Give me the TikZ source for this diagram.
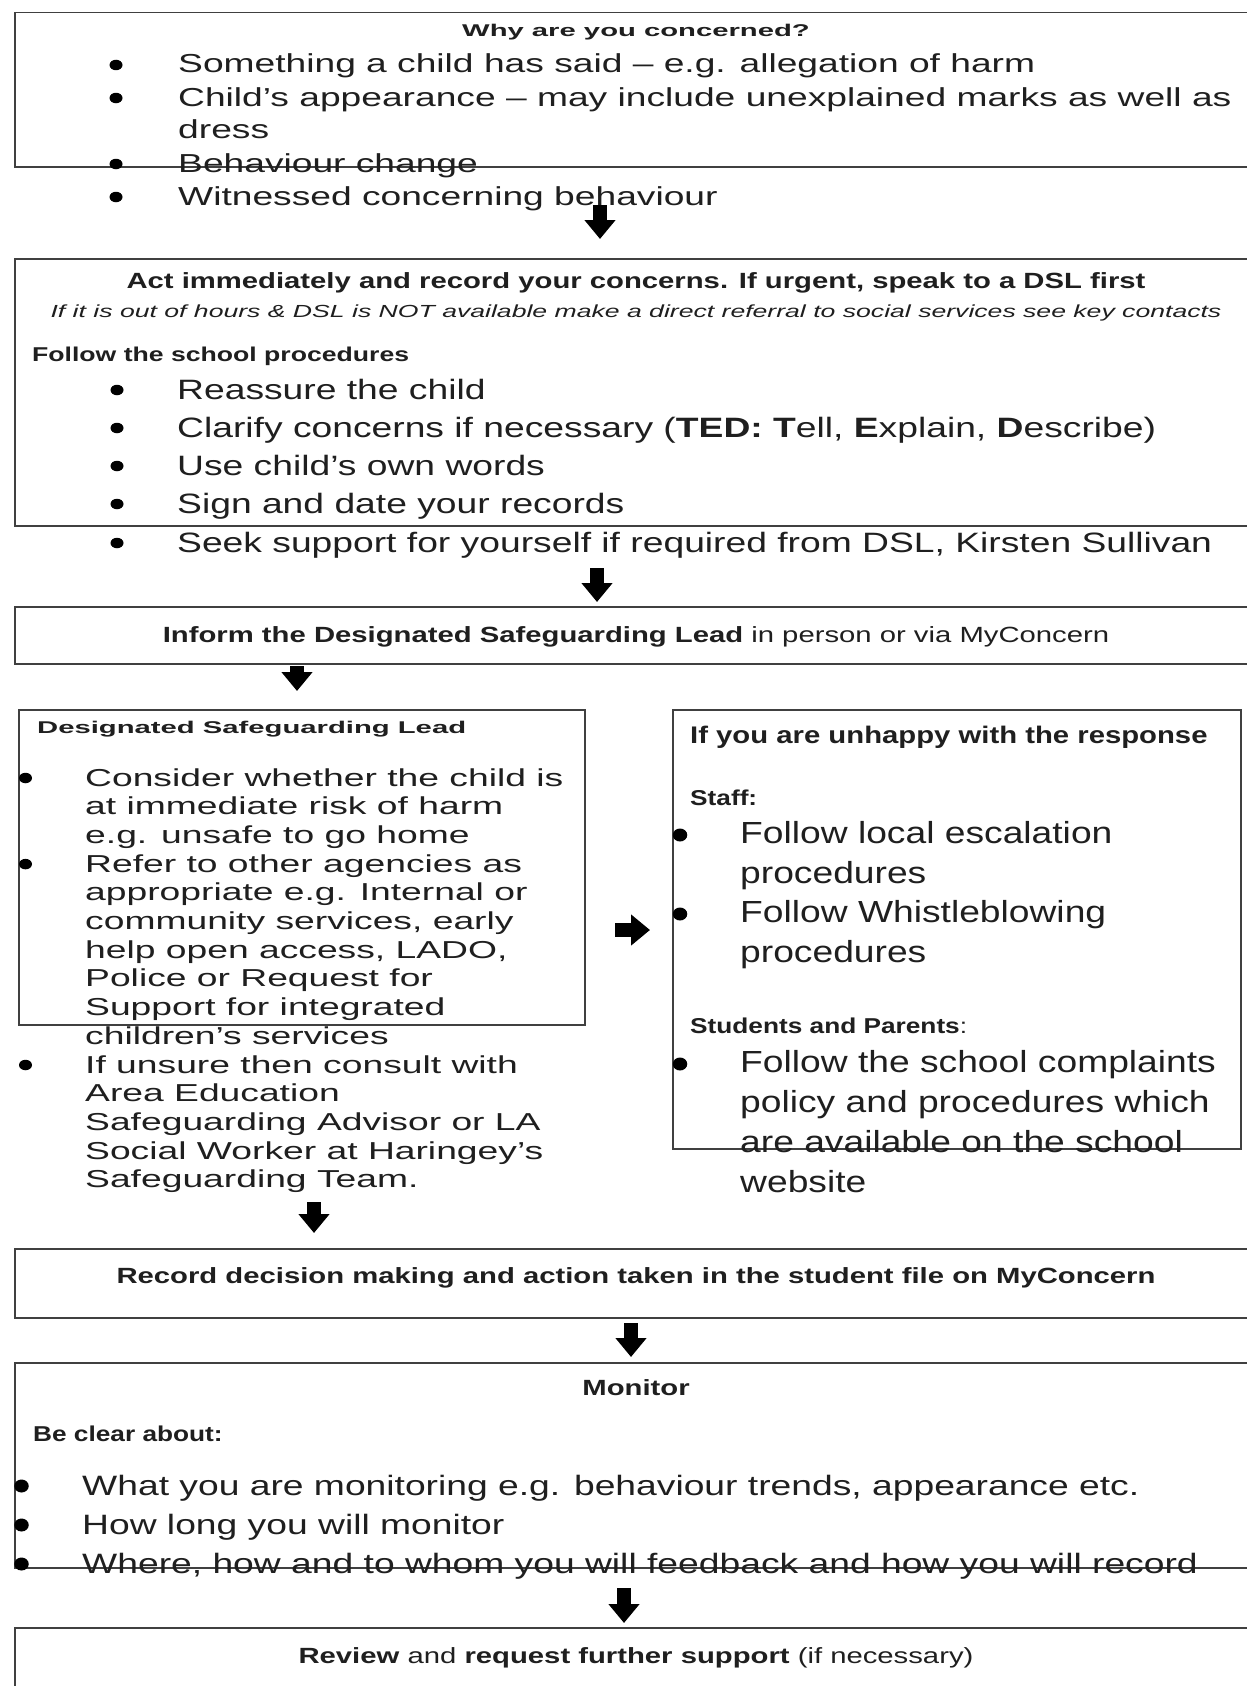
\documentclass[tikz,border=0pt]{standalone}
\usepackage{fontspec}
\setmainfont{Liberation Sans}
\newfontfamily\wideA{Liberation Sans}[FakeStretch=1.22]
\newfontfamily\wideB{Liberation Sans}[FakeStretch=1.33]
\newfontfamily\wideC{Liberation Sans}[FakeStretch=1.43]
\newfontfamily\wideD{Liberation Sans}[FakeStretch=1.52]
\newfontfamily\wideE{Liberation Sans}[FakeStretch=1.72]
\newcommand{\fsz}[1]{\fontsize{#1}{#1}\selectfont}
\usetikzlibrary{arrows.meta, shapes.geometric}

\begin{document}
\begin{tikzpicture}[
        x=1pt, y=-1pt,
        box/.style={draw=black!75, line width=1.5pt, inner sep=0pt, anchor=north west},
        lft/.style={inner sep=0pt, anchor=base west, text=black!88},
        mid/.style={inner sep=0pt, anchor=base, text=black!88},
        title/.style={mid, font=\wideB\bfseries\fsz{22}},
        small/.style={lft, font=\wideE\bfseries\fsz{17}},
        itemA/.style={lft, font=\wideC\fsz{26}},
        itemB/.style={lft, font=\wideB\fsz{28}},
        itemC/.style={lft, font=\wideD\fsz{24.5}},
        itemD/.style={lft, font=\wideA\fsz{30.5}},
        dot/.style={ellipse, fill=black, inner sep=0pt, minimum width=13pt, minimum height=10.5pt},
        bigdot/.style={dot, minimum width=14.5pt, minimum height=13pt},
        blockarrow/.style={draw=black, line width=14pt, -{Triangle[width=30pt, length=19pt]}}
    ]

    % page
    \useasboundingbox (0,0) rectangle (1247,1686);
    \fill[white] (0,0) rectangle (1247,1686);

    % ================= Why are you concerned =================
    \node[box, minimum width=1244pt, minimum height=154pt] (why) at (14,12) {};
    \node[small, anchor=base] (whyhead) at (636,37) {Why are you concerned?};
    \foreach \y/\lbl [count=\i] in {73/{Something a child has said – e.g. allegation of harm}, 106/{Child’s appearance – may include unexplained marks as well as}, 172/{Behaviour change}, 205/{Witnessed concerning behaviour}} {
        \node[dot] (whyb\i) at (116,\y-8) {};
        \node[itemA] (whyt\i) at (178,\y) {\lbl};
    }
    \node[itemA] (whydress) at (178,138) {dress};

    % ================= Act immediately =================
    \node[box, minimum width=1244pt, minimum height=267pt] (act) at (14,258) {};
    \node[title] (acthead) at (636,288) {Act immediately and record your concerns. If urgent, speak to a DSL first};
    \node[mid, font=\wideD\itshape\fsz{17.5}] (actnote) at (636,317) {If it is out of hours \& DSL is NOT available make a direct referral to social services see key contacts};
    \node[lft, font=\wideB\bfseries\fsz{20}] (actsub) at (32,361) {Follow the school procedures};
    \foreach \y/\lbl [count=\i] in {399/{Reassure the child}, 437/{Clarify concerns if necessary (\textbf{TED: T}ell, \textbf{E}xplain, \textbf{D}escribe)}, 475/{Use child’s own words}, 513/{Sign and date your records}, 552/{Seek support for yourself if required from DSL, Kirsten Sullivan}} {
        \node[dot] (actb\i) at (117,\y-9) {};
        \node[itemB] (actt\i) at (177,\y) {\lbl};
    }

    % ================= Inform the DSL =================
    \node[box, minimum width=1244pt, minimum height=57pt] (inform) at (14,606) {};
    \node[mid, font=\wideB\fsz{22}] (informtxt) at (636,642) {\textbf{Inform the Designated Safeguarding Lead} in person or via MyConcern};

    % ================= Designated Safeguarding Lead =================
    \node[box, minimum width=566pt, minimum height=315pt] (dsl) at (18,709) {};
    \node[small] (dslhead) at (37,733) {Designated Safeguarding Lead};
    \foreach \lbl [count=\i] in {Consider whether the child is, at immediate risk of harm, e.g. unsafe to go home, Refer to other agencies as, appropriate e.g. Internal or, {community services, early}, {help open access, LADO,}, Police or Request for, Support for integrated, children’s services, If unsure then consult with, Area Education, Safeguarding Advisor or LA, Social Worker at Haringey’s, Safeguarding Team.} {
        \node[itemC] (dslt\i) at (85,{757.3+28.7*\i}) {\lbl};
    }
    \foreach \i in {1,4,11} {
        \node[dot] (dslb\i) at (25.5,{749.3+28.7*\i}) {};
    }

    % ================= If you are unhappy =================
    \node[box, minimum width=568pt, minimum height=439pt] (unhappy) at (672,709) {};
    \node[lft, font=\wideA\bfseries\fsz{24}] (unhappyhead) at (690,743) {If you are unhappy with the response};
    \node[lft, font=\wideA\bfseries\fsz{21.5}] (staff) at (690,805) {Staff:};
    \node[lft, font=\wideA\fsz{21.5}] (students) at (690,1033) {\textbf{Students and Parents}:};
    \foreach \y/\lbl [count=\i] in {843/Follow local escalation, 883/procedures, 922/Follow Whistleblowing, 962/procedures, 1072/Follow the school complaints, 1112/policy and procedures which, 1152/are available on the school, 1192/website} {
        \node[itemD] (unhappyt\i) at (740,\y) {\lbl};
    }
    \foreach \y [count=\i] in {843, 922, 1072} {
        \node[bigdot] (unhappyb\i) at (680,\y-8) {};
    }

    % ================= Record =================
    \node[box, minimum width=1244pt, minimum height=69pt] (record) at (14,1248) {};
    \node[title] (recordtxt) at (636,1283) {Record decision making and action taken in the student file on MyConcern};

    % ================= Monitor =================
    \node[box, minimum width=1244pt, minimum height=205pt] (monitor) at (14,1362) {};
    \node[title] (monitorhead) at (636,1395) {Monitor};
    \node[lft, font=\wideA\bfseries\fsz{21.5}] (clear) at (33,1441) {Be clear about:};
    \foreach \y/\lbl [count=\i] in {1495/{What you are monitoring e.g. behaviour trends, appearance etc.}, 1534/How long you will monitor, 1573/{Where, how and to whom you will feedback and how you will record}} {
        \node[bigdot] (monitorb\i) at (21.5,\y-9) {};
        \node[itemB] (monitort\i) at (82,\y) {\lbl};
    }

    % ================= Review =================
    \node[box, minimum width=1244pt, minimum height=80pt] (review) at (14,1627) {};
    \node[mid, font=\wideB\fsz{22}] (reviewtxt) at (636,1663) {\textbf{Review} and \textbf{request further support} (if necessary)};

    % arrows
    \coordinate (a1s) at (600,205);  \coordinate (a1e) at (600,239);
    \coordinate (a2s) at (597,568);  \coordinate (a2e) at (597,602);
    \coordinate (a3s) at (297,666);  \coordinate (a3e) at (297,691);
    \coordinate (a4s) at (314,1202); \coordinate (a4e) at (314,1233);
    \coordinate (a5s) at (631,1323); \coordinate (a5e) at (631,1357);
    \coordinate (a6s) at (624,1588); \coordinate (a6e) at (624,1623);
    \coordinate (a7s) at (615,930);  \coordinate (a7e) at (650,930);
    \foreach \k in {1,...,7} {
        \draw[blockarrow] (a\k s) -- (a\k e);
    }

\end{tikzpicture}
\end{document}
